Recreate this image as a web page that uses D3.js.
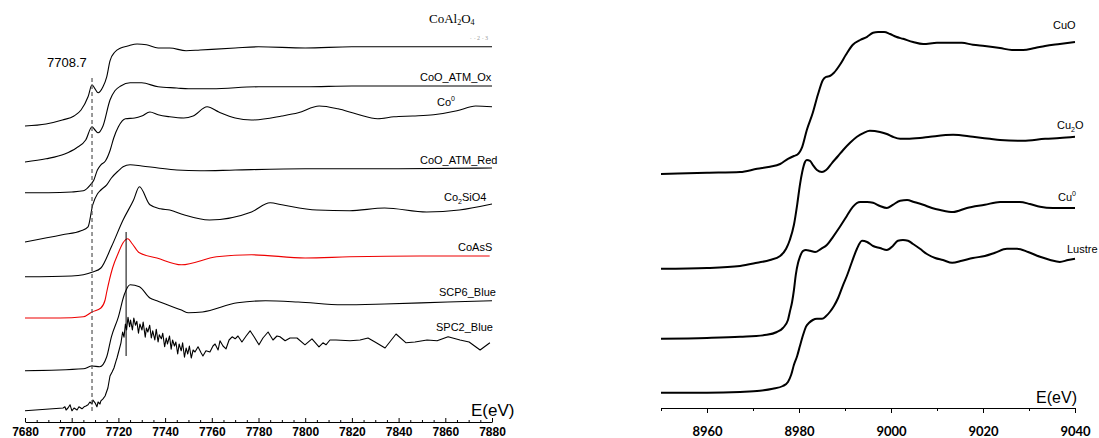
<!DOCTYPE html>
<html>
<head>
<meta charset="utf-8">
<script src="https://cdn.jsdelivr.net/npm/d3@7"></script>
<style>
  html, body { margin: 0; padding: 0; background: #fff; }
  svg { display: block; }
  .lbl { font-family: Arial, "Liberation Sans", sans-serif; font-size: 11px; fill: #000; }
</style>
</head>
<body>
<svg id="chart" width="1099" height="438"></svg>
<script>
// ── Data: Co K-edge (left) ───────────────────────────────────────────────────
// [energy eV, stacked intensity a.u.]
const coAl2O4 = [[7680,7.40],[7689,7.45],[7696,7.55],[7701,7.65],[7704,7.80],[7707,8.13],[7708.7,8.43],
  [7710,8.33],[7711.3,8.23],[7713.4,8.38],[7715,8.63],[7716.4,9.03],[7718.5,9.25],[7721,9.35],[7724,9.40],
  [7728,9.45],[7732,9.43],[7737,9.35],[7742,9.35],[7749,9.28],[7755,9.30],[7770,9.35],[7780,9.38],
  [7800,9.35],[7820,9.38],[7840,9.38],[7860,9.38],[7880,9.38]];
const coOAtmOx = [[7680,6.50],[7689,6.58],[7697,6.70],[7702,6.85],[7706,7.05],[7708.7,7.38],[7710,7.30],
  [7711.3,7.23],[7713.4,7.40],[7716.4,8.05],[7718.5,8.28],[7721,8.40],[7725,8.48],[7730,8.48],[7737,8.38],
  [7745,8.35],[7750,8.33],[7760,8.33],[7780,8.38],[7800,8.38],[7820,8.40],[7840,8.40],[7860,8.40],[7880,8.40]];
const co0 = [[7680,5.73],[7690,5.73],[7700,5.75],[7705,5.78],[7708,5.93],[7709.5,6.05],[7711,6.30],
  [7712.5,6.43],[7714.5,6.53],[7716.5,6.80],[7718,7.10],[7720,7.38],[7723,7.58],[7727,7.60],[7730,7.65],
  [7733.5,7.75],[7737,7.68],[7742,7.63],[7748,7.60],[7752,7.65],[7758,7.88],[7763,7.75],[7770,7.60],
  [7777,7.55],[7790,7.65],[7797,7.73],[7806,7.90],[7814,7.83],[7822,7.70],[7831,7.58],[7838,7.63],
  [7846,7.65],[7855,7.68],[7865,7.78],[7873,7.90],[7880,7.88]];
const coOAtmRed = [[7680,4.50],[7696,4.68],[7704,4.78],[7707,4.88],[7709,5.43],[7711,5.70],[7712.5,5.80],
  [7715,5.93],[7717,6.10],[7720,6.28],[7722,6.38],[7725,6.43],[7730,6.40],[7737,6.35],[7745,6.30],
  [7755,6.28],[7770,6.30],[7800,6.33],[7840,6.33],[7880,6.35]];
const co2SiO4 = [[7680,3.63],[7700,3.65],[7705,3.68],[7709,3.75],[7712.5,3.85],[7717,4.38],[7722,5.05],
  [7726.5,5.55],[7729,5.88],[7733.5,5.43],[7738,5.33],[7742,5.30],[7748,5.18],[7759,5.05],[7777,5.25],
  [7785,5.48],[7790,5.43],[7805,5.30],[7819,5.28],[7834,5.35],[7852,5.25],[7866,5.30],[7880,5.45]];
const coAsS = [[7680,2.60],[7695,2.60],[7705,2.63],[7708.7,2.75],[7712.5,2.85],[7714.3,3.05],[7715,3.25],
  [7717.5,3.85],[7720,4.23],[7722,4.48],[7724,4.58],[7726,4.45],[7729,4.23],[7736.5,4.10],[7747,3.93],
  [7762,4.13],[7777,4.18],[7800,4.10],[7819,4.13],[7849,4.15],[7879,4.15]];
const scp6Blue = [[7680,1.28],[7705,1.33],[7708.7,1.40],[7712,1.38],[7715,1.63],[7717,2.13],[7720,2.63],
  [7722.5,3.18],[7725,3.43],[7729,3.38],[7733.5,3.10],[7736.5,3.03],[7747,2.80],[7750,2.73],[7756,2.75],
  [7771,2.98],[7783,3.03],[7797,3.00],[7816,2.93],[7834,2.95],[7861,3.00],[7880,3.03]];
const spc2Blue = [[7680,0.28],[7696.3,0.35],[7697.1,0.38],[7697.6,0.30],[7698.4,0.35],[7699.3,0.43],
  [7700.1,0.28],[7701,0.35],[7702.3,0.30],[7703.1,0.38],[7704.4,0.33],[7705.3,0.38],[7706.1,0.40],
  [7707,0.43],[7707.8,0.50],[7708.7,0.45],[7709.1,0.55],[7710,0.48],[7710.8,0.38],[7711.3,0.50],
  [7712.1,0.45],[7712.5,0.53],[7713.4,0.58],[7714.3,0.65],[7715.5,0.85],[7716.4,1.15],[7717.3,1.25],
  [7718.1,1.35],[7719,1.53],[7719.4,1.60],[7720.3,1.80],[7721.1,1.98],[7721.8,2.25],[7722.4,2.12],
  [7723,2.45],[7723.5,2.30],[7724.1,2.62],[7724.8,2.38],[7725.2,2.55],[7726,2.30],[7726.6,2.60],
  [7727.3,2.42],[7727.9,2.52],[7728.6,2.22],[7729.2,2.45],[7730.1,2.30],[7730.6,2.50],[7731.5,2.12],
  [7732,2.35],[7732.6,2.25],[7733.4,2.42],[7734.1,2.10],[7734.7,2.28],[7735.6,2.05],[7736.2,2.32],
  [7737,2.00],[7737.5,2.18],[7738.4,2.08],[7739,2.22],[7739.8,1.88],[7740.5,2.10],[7741,1.95],
  [7741.9,2.15],[7742.6,1.82],[7743.2,2.05],[7744,1.90],[7744.6,2.00],[7745.4,1.70],[7746,1.95],
  [7746.9,1.78],[7747.5,1.98],[7748.3,1.62],[7749,1.85],[7749.7,1.70],[7750.4,1.90],[7751.2,1.60],
  [7752,1.80],[7752.8,1.75],[7754.1,1.88],[7755.4,1.73],[7756.2,1.65],[7757.5,1.78],[7759.2,1.75],
  [7760.5,1.90],[7761.4,1.95],[7762.7,1.80],[7763.5,2.03],[7764.8,1.90],[7766.1,1.83],[7767.4,2.05],
  [7768.7,2.13],[7770,2.08],[7771.2,2.15],[7772.9,2.00],[7774.7,2.15],[7776.4,2.28],[7778.1,2.13],
  [7780.2,1.93],[7781.9,2.10],[7784.1,2.25],[7786.2,2.05],[7787.9,2.15],[7789.2,2.13],[7791.4,2.03],
  [7793.5,2.10],[7796.5,2.10],[7799.9,1.93],[7802.9,2.08],[7805.9,1.88],[7807.6,1.98],[7808.9,1.93],
  [7810.6,2.05],[7813.2,2.05],[7819.2,2.03],[7823.5,2.05],[7826.9,2.10],[7829.9,2.00],[7834.2,1.85],
  [7838.9,2.20],[7843.2,1.98],[7847,2.00],[7852.2,2.05],[7856.5,2.03],[7861.2,2.13],[7866.3,2.05],
  [7870.2,2.00],[7874.9,1.80],[7879.1,1.98]];

// ── Data: Cu K-edge (right) ──────────────────────────────────────────────────
const cuO = [[8950,5.85],[8960,5.88],[8967.2,5.90],[8970.9,5.98],[8973.7,6.03],[8975.9,6.10],[8977.6,6.23],
  [8978.9,6.30],[8979.6,6.33],[8980.7,6.53],[8981.7,6.95],[8983,7.38],[8984.1,7.83],[8985.2,8.20],
  [8985.9,8.28],[8986.7,8.30],[8987.6,8.38],[8988.9,8.58],[8990.2,8.83],[8991.7,9.08],[8993.3,9.20],
  [8994.8,9.28],[8996.1,9.38],[8997.2,9.40],[8998.5,9.40],[8999.8,9.35],[9001.1,9.28],[9002.6,9.23],
  [9004.8,9.15],[9007,9.10],[9010,9.13],[9012.8,9.13],[9015.4,9.13],[9017.8,9.08],[9020.4,9.05],
  [9023.7,9.00],[9026.3,8.95],[9028.7,8.95],[9031.3,9.00],[9033.5,9.05],[9036.7,9.10],[9040,9.15]];
const cu2O = [[8950,3.48],[8960,3.50],[8967.2,3.55],[8970.9,3.63],[8973.7,3.70],[8975.9,3.80],[8977.2,3.98],
  [8978,4.20],[8978.9,4.58],[8979.6,5.08],[8980.2,5.58],[8980.7,5.90],[8981.3,6.15],[8981.7,6.20],
  [8982.4,6.18],[8983,6.08],[8983.9,5.95],[8985,5.90],[8985.9,5.95],[8987.2,6.13],[8988.5,6.30],
  [8989.6,6.45],[8991.1,6.63],[8992.6,6.78],[8994.1,6.88],[8995.4,6.93],[8997.6,6.90],[8999.1,6.85],
  [9000.4,6.78],[9002,6.73],[9003.5,6.73],[9006.3,6.75],[9008.5,6.78],[9013.5,6.83],[9017.8,6.78],
  [9021.5,6.73],[9023.7,6.70],[9028.7,6.68],[9033.5,6.73],[9036.7,6.75],[9040,6.78]];
const cu0 = [[8950,1.73],[8960,1.75],[8967.2,1.78],[8973,1.83],[8975.2,1.90],[8976.5,2.00],[8977.6,2.20],
  [8978,2.40],[8978.5,2.65],[8978.9,2.95],[8979.3,3.33],[8979.8,3.63],[8980.2,3.78],[8980.9,3.93],
  [8981.5,3.95],[8982.4,3.93],[8983.5,3.90],[8984.8,3.98],[8986.1,4.08],[8987.4,4.28],[8988.9,4.53],
  [8990.4,4.80],[8991.7,5.03],[8993.3,5.15],[8994.8,5.15],[8996.1,5.13],[8997.6,5.05],[8999.1,5.00],
  [9000.4,5.08],[9002,5.18],[9003.5,5.20],[9005,5.15],[9007,5.08],[9008.9,5.00],[9010.7,4.95],
  [9013.5,4.90],[9016.5,5.00],[9020.4,5.08],[9023.7,5.15],[9028,5.15],[9030.2,5.10],[9032.4,5.03],
  [9035.2,5.00],[9037.4,5.00],[9040,5.00]];
const lustre = [[8950,0.38],[8960,0.38],[8967.2,0.40],[8971.5,0.43],[8974.3,0.48],[8976.5,0.55],[8977.6,0.65],
  [8978.3,0.83],[8978.9,1.08],[8979.6,1.30],[8980.2,1.55],[8980.9,1.83],[8981.5,2.03],[8982.2,2.13],
  [8983,2.20],[8983.9,2.23],[8985,2.23],[8985.9,2.30],[8986.7,2.40],[8987.6,2.55],[8988.5,2.75],
  [8989.6,3.08],[8990.4,3.30],[8991.5,3.65],[8992.6,3.98],[8993.7,4.18],[8994.8,4.15],[8996.1,4.05],
  [8997.6,4.00],[8999.1,3.95],[9000.4,4.05],[9001.5,4.18],[9002.6,4.20],[9003.7,4.18],[9004.8,4.10],
  [9006.3,3.98],[9007.8,3.85],[9009.6,3.75],[9011.3,3.70],[9013.3,3.63],[9015.4,3.68],[9017.8,3.75],
  [9020.4,3.80],[9022.6,3.88],[9025.2,3.98],[9027.4,3.98],[9029.8,3.90],[9032.4,3.78],[9034.6,3.70],
  [9036.7,3.65],[9038.5,3.70],[9040,3.73]];

// markers
const preEdgeE = 7708.7, preEdgeSpan = [0.23, 8.6];
const whiteLineE = 7723.3, whiteLineSpan = [1.65, 4.75];

const leftTicks  = [7680, 7700, 7720, 7740, 7760, 7780, 7800, 7820, 7840, 7860, 7880];
const rightTicks = [8960, 8980, 9000, 9020, 9040];

// ── Scales ───────────────────────────────────────────────────────────────────
const svg = d3.select("#chart");
const xL = d3.scaleLinear().domain([7680, 7880]).range([25, 492]);
const yL = d3.scaleLinear().domain([0, 10.55]).range([422, 0]);
const xR = d3.scaleLinear().domain([8950, 9040]).range([661, 1075]);
const yR = d3.scaleLinear().domain([0, 10.2]).range([408, 0]);

const lineL  = d3.line().x(d => xL(d[0])).y(d => yL(d[1])).curve(d3.curveMonotoneX);
const lineLr = d3.line().x(d => xL(d[0])).y(d => yL(d[1]));
const lineR  = d3.line().x(d => xR(d[0])).y(d => yR(d[1])).curve(d3.curveMonotoneX);

// ── Left panel ───────────────────────────────────────────────────────────────
const gL = svg.append("g");

[coAl2O4, coOAtmOx, co0, coOAtmRed, co2SiO4, scp6Blue].forEach(s =>
  gL.append("path").attr("d", lineL(s)).attr("fill", "none")
    .attr("stroke", "#000").attr("stroke-width", 1.1));
gL.append("path").attr("d", lineL(coAsS)).attr("fill", "none")
  .attr("stroke", "#e00").attr("stroke-width", 1.1);
gL.append("path").attr("d", lineLr(spc2Blue)).attr("fill", "none")
  .attr("stroke", "#000").attr("stroke-width", 1.1).attr("stroke-linejoin", "round");

gL.append("line")
  .attr("x1", xL(preEdgeE)).attr("x2", xL(preEdgeE))
  .attr("y1", yL(preEdgeSpan[1])).attr("y2", yL(preEdgeSpan[0]))
  .attr("stroke", "#555").attr("stroke-width", 1.2).attr("stroke-dasharray", "4,3");
gL.append("line")
  .attr("x1", xL(whiteLineE)).attr("x2", xL(whiteLineE))
  .attr("y1", yL(whiteLineSpan[1])).attr("y2", yL(whiteLineSpan[0]))
  .attr("stroke", "#000").attr("stroke-width", 1);

// axis (ticks inward)
gL.append("g").attr("transform", "translate(0,422)")
  .call(d3.axisBottom(xL).tickValues(leftTicks).tickFormat(d3.format("d"))
    .tickSizeInner(-4).tickSizeOuter(0).tickPadding(5))
  .call(g => g.selectAll(".tick text")
    .attr("font-family", "Arial, 'Liberation Sans', sans-serif")
    .attr("font-size", 12).attr("font-weight", "bold"));
gL.append("g").attr("transform", "translate(0,422)")
  .call(d3.axisBottom(xL).tickValues(d3.range(7685, 7880, 5).filter(v => v % 20))
    .tickFormat("").tickSizeInner(-2).tickSizeOuter(0))
  .select(".domain").remove();

gL.append("text").attr("class", "lbl").attr("x", 471).attr("y", 416)
  .style("font-size", "17px").text("E(eV)");
gL.append("text").attr("class", "lbl").attr("x", 47).attr("y", 67)
  .style("font-size", "13px").text("7708.7");

// labels
const t1 = gL.append("text").attr("x", 429).attr("y", 23)
  .style("font-family", "'Liberation Serif', 'Times New Roman', serif").style("font-size", "13px");
t1.append("tspan").text("CoAl");
t1.append("tspan").attr("dy", 2).style("font-size", "8px").text("2");
t1.append("tspan").attr("dy", -2).text("O");
t1.append("tspan").attr("dy", 2).style("font-size", "8px").text("4");
gL.append("text").attr("x", 470).attr("y", 40).style("font-family", "'Liberation Serif', serif")
  .style("font-size", "6px").attr("fill", "#999").text("‧ ‧   2 ‧ 3");

gL.append("text").attr("class", "lbl").attr("x", 420).attr("y", 81).text("CoO_ATM_Ox");
const t2 = gL.append("text").attr("class", "lbl").attr("x", 437).attr("y", 106);
t2.append("tspan").text("Co");
t2.append("tspan").attr("dy", -5).style("font-size", "7px").text("0");
gL.append("text").attr("class", "lbl").attr("x", 420).attr("y", 164).text("CoO_ATM_Red");
const t3 = gL.append("text").attr("class", "lbl").attr("x", 444).attr("y", 201);
t3.append("tspan").text("Co");
t3.append("tspan").attr("dy", 3).style("font-size", "7px").text("2");
t3.append("tspan").attr("dy", -3).text("SiO4");
gL.append("text").attr("class", "lbl").attr("x", 458).attr("y", 251).text("CoAsS");
gL.append("text").attr("class", "lbl").attr("x", 439).attr("y", 296).text("SCP6_Blue");
gL.append("text").attr("class", "lbl").attr("x", 436).attr("y", 331).text("SPC2_Blue");

// ── Right panel ──────────────────────────────────────────────────────────────
const gR = svg.append("g");
[cuO, cu2O, cu0, lustre].forEach(s =>
  gR.append("path").attr("d", lineR(s)).attr("fill", "none")
    .attr("stroke", "#000").attr("stroke-width", 2).attr("stroke-linejoin", "round"));

gR.append("g").attr("transform", "translate(0,408)")
  .call(d3.axisBottom(xR).tickValues(rightTicks).tickFormat(d3.format("d"))
    .tickSizeInner(5).tickSizeOuter(0).tickPadding(14))
  .call(g => g.selectAll(".tick text")
    .attr("font-family", "Lato, 'Open Sans', sans-serif")
    .attr("font-size", 13).attr("font-weight", "bold"));
gR.append("g").attr("transform", "translate(0,408)")
  .call(d3.axisBottom(xR).tickValues(d3.range(8950, 9040, 20))
    .tickFormat("").tickSizeInner(3).tickSizeOuter(0))
  .select(".domain").remove();

gR.append("text").attr("class", "lbl").attr("x", 1077).attr("y", 403)
  .attr("text-anchor", "end").style("font-size", "16px").text("E(eV)");

gR.append("text").attr("class", "lbl").attr("x", 1053).attr("y", 29).text("CuO");
const r2 = gR.append("text").attr("class", "lbl").attr("x", 1057).attr("y", 129);
r2.append("tspan").text("Cu");
r2.append("tspan").attr("dy", 3).style("font-size", "7px").text("2");
r2.append("tspan").attr("dy", -3).text("O");
const r3 = gR.append("text").attr("class", "lbl").attr("x", 1058).attr("y", 201);
r3.append("tspan").text("Cu");
r3.append("tspan").attr("dy", -5).style("font-size", "7px").text("0");
gR.append("text").attr("class", "lbl").attr("x", 1067).attr("y", 253).text("Lustre");

svg.selectAll(".domain").attr("stroke-width", 1.2);
</script>
</body>
</html>
